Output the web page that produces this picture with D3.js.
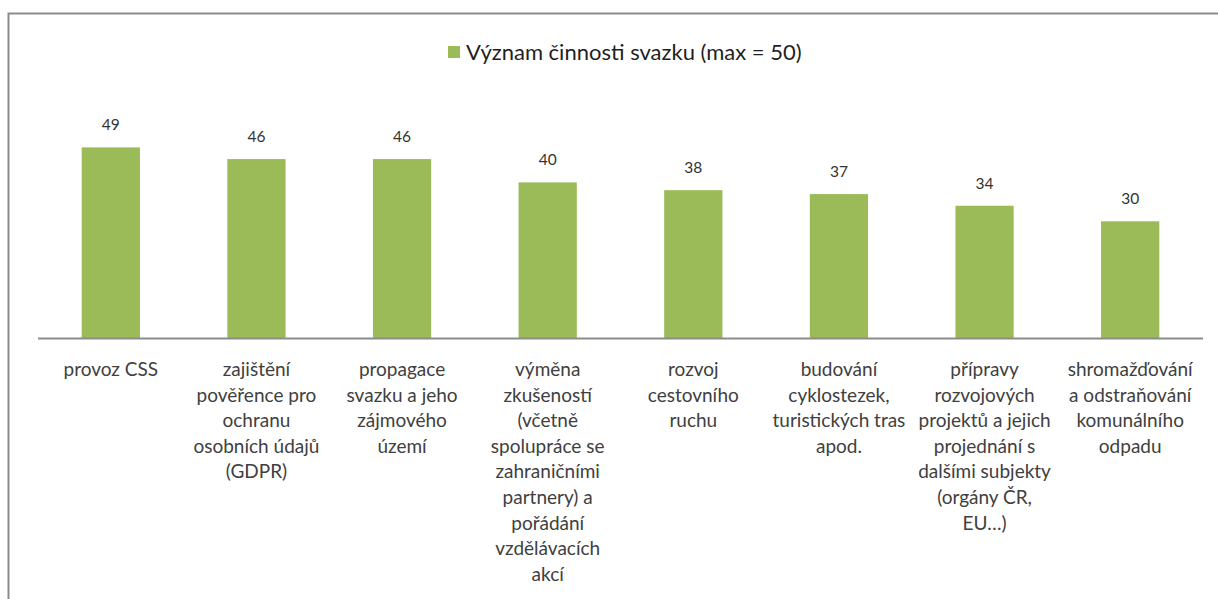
<!DOCTYPE html>
<html><head><meta charset="utf-8">
<script src="https://cdn.jsdelivr.net/npm/d3@7"></script>
<style>html,body{margin:0;padding:0;background:#fff;overflow:hidden}</style>
</head><body>
<svg id="c" width="1218" height="599"></svg>
<script>
const categories = [
  ["provoz CSS"],
  ["zajištění", "pověřence pro", "ochranu", "osobních údajů", "(GDPR)"],
  ["propagace", "svazku a jeho", "zájmového", "území"],
  ["výměna", "zkušeností", "(včetně", "spolupráce se", "zahraničními", "partnery) a", "pořádání", "vzdělávacích", "akcí"],
  ["rozvoj", "cestovního", "ruchu"],
  ["budování", "cyklostezek,", "turistických tras", "apod."],
  ["přípravy", "rozvojových", "projektů a jejich", "projednání s", "dalšími subjekty", "(orgány ČR,", "EU…)"],
  ["shromažďování", "a odstraňování", "komunálního", "odpadu"]
];
const values = [49, 46, 46, 40, 38, 37, 34, 30];
const seriesName = "Význam činnosti svazku (max = 50)";

const font = "Lato, 'Open Sans', sans-serif";
const green = "#9BBB59";
const svg = d3.select("#c");

// chart border (cropped at right/bottom)
svg.append("path").attr("d", "M8.5,600 L8.5,13.5 L1220,13.5")
  .attr("fill", "none").attr("stroke", "#8c8c8c").attr("stroke-width", 2);

const keys = categories.map((d, i) => i);
const x = d3.scaleBand().domain(keys).range([38, 1203]).paddingInner(0.6).paddingOuter(0.3);
const y = d3.scaleLinear().domain([0, 50]).range([338, 143.5]);

svg.selectAll("rect.bar").data(values).join("rect").attr("class", "bar")
  .attr("x", (d, i) => x(i)).attr("width", x.bandwidth())
  .attr("y", d => y(d)).attr("height", d => y(0) - y(d))
  .attr("fill", green);

svg.selectAll("text.val").data(values).join("text").attr("class", "val")
  .attr("x", (d, i) => x(i) + x.bandwidth() / 2).attr("y", d => y(d) - 17)
  .attr("text-anchor", "middle").attr("font-family", font).attr("font-size", 15.5)
  .attr("fill", "#333333").text(d => d);

// x axis
const xAxis = d3.axisBottom(x).tickSize(0).tickFormat("");
const gx = svg.append("g").attr("transform", "translate(0,338.5)").call(xAxis);
gx.select(".domain").attr("stroke", "#8c8c8c").attr("stroke-width", 2).attr("d", "M38,0H1203");

// category labels (wrapped lines)
const lab = svg.selectAll("text.cat").data(categories).join("text").attr("class", "cat")
  .attr("text-anchor", "middle").attr("font-family", font).attr("font-size", 19)
  .attr("fill", "#404040");
lab.each(function(lines, i) {
  const t = d3.select(this);
  lines.forEach((l, j) => {
    t.append("tspan").attr("x", x(i) + x.bandwidth() / 2).attr("y", 376 + j * 25.6).text(l);
  });
});

// legend
const lg = svg.append("g");
const lt = lg.append("text").attr("x", 466).attr("y", 60).attr("font-family", font)
  .attr("font-size", 22).attr("fill", "#1f1f1f").text(seriesName);
lg.append("rect").attr("x", 448).attr("y", 46).attr("width", 12).attr("height", 12).attr("fill", green);
</script>
</body></html>
